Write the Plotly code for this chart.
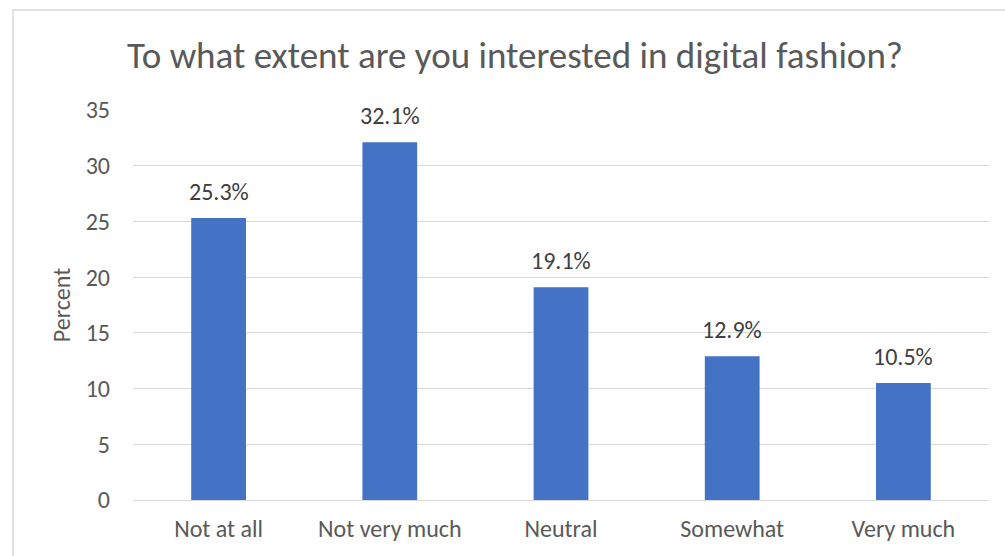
import plotly.graph_objects as go

categories = ["Not at all", "Not very much", "Neutral", "Somewhat", "Very much"]
percent = [25.3, 32.1, 19.1, 12.9, 10.5]
y_ticks = [0, 5, 10, 15, 20, 25, 30, 35]

FONT = "Carlito, Calibri, Lato, sans-serif"
GRID = "#d9d9d9"

W, H = 1005, 556
L, R, T, B = 133, 16, 110, 56
pw, ph = W - L - R, H - T - B

fig = go.Figure(
    go.Bar(
        x=categories,
        y=percent,
        marker=dict(color="#4472C4", line=dict(width=0)),
        hoverinfo="x+y",
    )
)

# value labels above each bar
for cat, val in zip(categories, percent):
    fig.add_annotation(
        x=cat, y=val, text=f"{val:.1f}%", showarrow=False,
        yanchor="bottom", yshift=10,
        font=dict(family=FONT, size=24, color="#404040"),
    )

# outer chart border (runs past the right and bottom edges of the page)
fig.add_shape(
    type="rect", xref="paper", yref="paper",
    x0=(13 - L) / pw, x1=(W + 10 - L) / pw,
    y0=-(H + 10 - (T + ph)) / ph, y1=(T + ph - 10) / ph,
    line=dict(color=GRID, width=1.5), fillcolor="rgba(0,0,0,0)", layer="below",
)

fig.update_layout(
    width=W, height=H,
    margin=dict(l=L, r=R, t=T, b=B, pad=0),
    paper_bgcolor="white", plot_bgcolor="white",
    bargap=0.68,
    showlegend=False,
    title=dict(
        text="To what extent are you interested in digital fashion?",
        font=dict(family=FONT, size=37, color="#595959"),
        x=515 / W, xanchor="center", y=1 - 55 / H, yanchor="middle",
    ),
    font=dict(family=FONT, color="#595959"),
)
fig.update_yaxes(
    range=[0, 35], tickvals=y_ticks, showgrid=True, gridcolor=GRID, gridwidth=1,
    zeroline=True, zerolinecolor=GRID, zerolinewidth=1, showline=False,
    tickfont=dict(family=FONT, size=24, color="#595959"),
    ticklabelstandoff=22,
    title=dict(text="Percent", font=dict(family=FONT, size=24, color="#595959"), standoff=8),
)
fig.update_xaxes(
    showgrid=False, showline=False, zeroline=False,
    tickfont=dict(family=FONT, size=24, color="#595959"),
    ticklabelstandoff=12,
)

fig.write_html("out.html")
